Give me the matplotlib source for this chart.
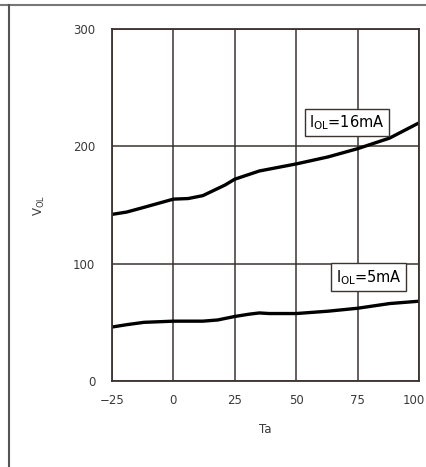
import matplotlib
matplotlib.use("Agg")
import matplotlib.pyplot as plt
from matplotlib.lines import Line2D
from matplotlib.transforms import offset_copy

# Ta (deg C) vs VOL (mV)
ta_16 = [-25, -19, -12, 0, 6, 12, 21, 25, 35, 50, 63, 75, 88, 100]
vol_16 = [142, 144, 148, 155, 155.5, 158, 167, 172, 179, 185, 191, 198, 207, 220]
ta_5 = [-25, -19, -12, 0, 12, 18, 25, 31, 35, 39, 50, 63, 75, 88, 100]
vol_5 = [46, 48, 50, 51, 51, 52, 55, 57, 58, 57.5, 57.5, 59.5, 62, 66, 68]

x_ticks = [-25, 0, 25, 50, 75, 100]
y_ticks = [0, 100, 200, 300]
x_label = "Ta"
y_label = r"V$_{\mathrm{OL}}$"
curve_labels = [r"I$_{\mathrm{OL}}$=16mA", r"I$_{\mathrm{OL}}$=5mA"]
label_pos = [(70.7, 220.5), (79.5, 88.5)]

grid_col = "#3b3330"
text_col = "#3a3a3a"

fig = plt.figure(figsize=(4.27, 4.67), dpi=100)
ax = fig.add_axes([112 / 427, 86 / 467, 307 / 427, 352 / 467])

ax.plot(ta_16, vol_16, color="black", lw=2.4, solid_capstyle="butt")
ax.plot(ta_5, vol_5, color="black", lw=2.4, solid_capstyle="butt")

ax.set_xlim(-25, 100)
ax.set_ylim(0, 300)
ax.set_xticks(x_ticks)
ax.set_yticks(y_ticks)
ax.grid(True, color=grid_col, lw=1.1)
ax.set_axisbelow(True)
for s in ax.spines.values():
    s.set_color(grid_col)
    s.set_linewidth(1.3)
ax.tick_params(length=0, labelsize=8.5, colors=text_col)
ax.tick_params(axis="y", pad=12)
ax.tick_params(axis="x", pad=9)
ax.set_xlabel(x_label, fontsize=8.5, color=text_col, labelpad=12)
ax.set_ylabel(y_label, fontsize=8.5, color=text_col)
ax.yaxis.set_label_coords(-(112 - 47) / 307, 0.5)

# the last x tick label sits at the page edge; nudge it inward
last = ax.get_xticklabels()[-1]
last.set_transform(offset_copy(last.get_transform(), fig=fig, x=-5, units="dots"))

for txt, (x, y) in zip(curve_labels, label_pos):
    ax.text(x, y, txt, fontsize=10.5, ha="center", va="center", color="black",
            bbox=dict(boxstyle="square,pad=0.3", fc="white", ec=grid_col, lw=1.0))

# outer frame lines of the datasheet page
fig.add_artist(Line2D([0, 1], [1 - 5 / 467, 1 - 5 / 467], color="#777777", lw=1.5,
                      transform=fig.transFigure))
fig.add_artist(Line2D([9 / 427, 9 / 427], [0, 1 - 5 / 467], color="#555555", lw=1.5,
                      transform=fig.transFigure))

fig.savefig("out.png", dpi=100)
